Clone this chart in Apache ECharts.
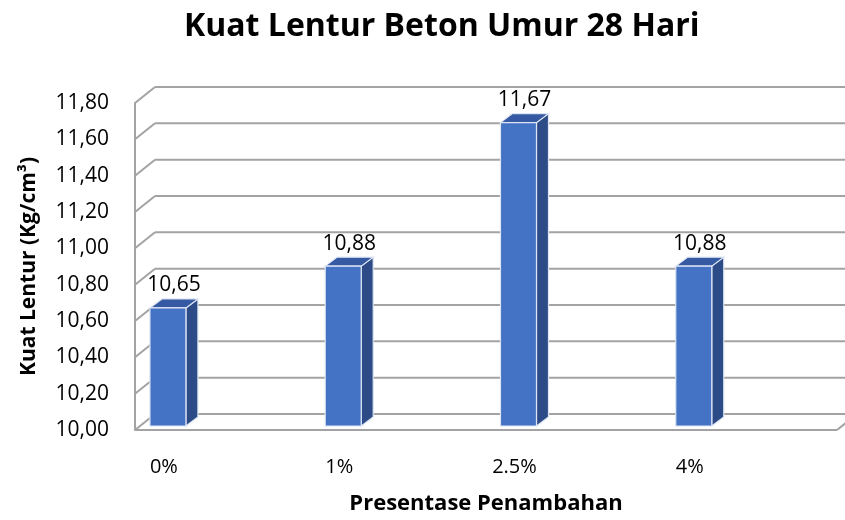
<!DOCTYPE html>
<html>
<head>
<meta charset="utf-8">
<script src="https://cdn.jsdelivr.net/npm/echarts@6/dist/echarts.min.js"></script>
<style>
  html, body { margin: 0; padding: 0; background: #fff; }
  #chart { width: 845px; height: 520px; }
</style>
</head>
<body>
<div id="chart"></div>
<script>
// data
const categories = ['0%', '1%', '2.5%', '4%']
const values = [10.65, 10.88, 11.67, 10.88]
const yTicks = [10.0, 10.2, 10.4, 10.6, 10.8, 11.0, 11.2, 11.4, 11.6, 11.8]

// 3d look
const WALL_DX = 20, WALL_DY = -16   // back wall offset from the front plane
const FACE_DX = 4, FACE_DY = -4     // bar front face sits a bit inside the floor
const BAR_DX = 12, BAR_DY = -9      // bar depth
const BAR_HALF = 18
const lineColor = '#a3a3a3'
const fmt = v => v.toFixed(2).replace('.', ',')

const chart = echarts.init(document.getElementById('chart'))

function renderWall (params, api) {
  const cs = params.coordSys
  const v = api.value(0)
  const y = api.coord([0, v])[1]
  const x0 = cs.x, x1 = cs.x + cs.width
  const st = { stroke: lineColor, lineWidth: 2, fill: null }
  const kids = [
    { type: 'line', shape: { x1: x0, y1: y, x2: x0 + WALL_DX, y2: y + WALL_DY }, style: st },
    { type: 'line', shape: { x1: x0 + WALL_DX, y1: y + WALL_DY, x2: x1 + WALL_DX, y2: y + WALL_DY }, style: st }
  ]
  if (params.dataIndex === 0) {
    kids.push({ type: 'line', shape: { x1: x0, y1: y, x2: x1, y2: y }, style: st })
    kids.push({ type: 'line', shape: { x1: x1, y1: y, x2: x1 + WALL_DX, y2: y + WALL_DY }, style: st })
  }
  return { type: 'group', children: kids }
}

function renderBar (params, api) {
  const i = api.value(0)
  const v = api.value(1)
  const top = api.coord([i, v])
  const base = api.coord([i, yTicks[0]])
  const xl = top[0] + FACE_DX - BAR_HALF
  const xr = top[0] + FACE_DX + BAR_HALF
  const yt = top[1] + FACE_DY
  const yb = base[1] + FACE_DY
  const edge = { stroke: '#dfe6f3', lineWidth: 1.2 }
  return {
    type: 'group',
    children: [
      { type: 'polygon', shape: { points: [[xr, yt], [xr + BAR_DX, yt + BAR_DY], [xr + BAR_DX, yb + BAR_DY], [xr, yb]] },
        style: Object.assign({ fill: '#2c4b87' }, edge) },
      { type: 'polygon', shape: { points: [[xl, yt], [xl + BAR_DX, yt + BAR_DY], [xr + BAR_DX, yt + BAR_DY], [xr, yt]] },
        style: Object.assign({ fill: '#3559a2' }, edge) },
      { type: 'rect', shape: { x: xl, y: yt, width: xr - xl, height: yb - yt },
        style: Object.assign({ fill: '#4472c4' }, edge) },
      { type: 'text',
        style: { text: fmt(v), x: (xl + xr) / 2 + BAR_DX / 2, y: yt + BAR_DY - 3,
          align: 'center', verticalAlign: 'bottom', fill: '#000',
          font: '21px "Open Sans", sans-serif' } }
    ]
  }
}

chart.setOption({
  animation: false,
  backgroundColor: '#fff',
  title: {
    text: 'Kuat Lentur Beton Umur 28 Hari',
    left: 179,
    top: 6,
    textStyle: { fontFamily: 'Open Sans', fontWeight: 'bold', fontSize: 32, color: '#000' }
  },
  grid: { left: 135, right: 8, top: 103, bottom: 88 },
  xAxis: {
    type: 'value',
    min: -0.165,
    max: 3.84,
    name: 'Presentase Penambahan',
    nameLocation: 'middle',
    nameGap: 63,
    nameTextStyle: { fontFamily: 'Open Sans', fontWeight: 'bold', fontSize: 22, color: '#000' },
    axisLine: { show: false },
    axisTick: { show: false },
    splitLine: { show: false },
    axisLabel: {
      customValues: [0, 1, 2, 3],
      formatter: v => categories[Math.round(v)],
      margin: 27,
      fontFamily: 'Open Sans',
      fontSize: 20,
      color: '#000'
    }
  },
  yAxis: {
    type: 'value',
    min: 10,
    max: 11.8,
    interval: 0.2,
    name: 'Kuat Lentur (Kg/cm³)',
    nameLocation: 'middle',
    nameGap: 95,
    nameTextStyle: { fontFamily: 'Open Sans', fontWeight: 'bold', fontSize: 21, color: '#000' },
    axisLine: { show: true, onZero: false, lineStyle: { color: lineColor, width: 2 } },
    axisTick: { show: false },
    splitLine: { show: false },
    axisLabel: {
      formatter: fmt,
      margin: 26,
      fontFamily: 'Open Sans',
      fontSize: 21,
      color: '#000'
    }
  },
  series: [
    {
      type: 'custom',
      renderItem: renderWall,
      data: yTicks.map(v => [v]),
      encode: { y: 0 },
      clip: false,
      silent: true,
      z: 1
    },
    {
      type: 'custom',
      renderItem: renderBar,
      data: values.map((v, i) => [i, v]),
      encode: { x: 0, y: 1 },
      clip: false,
      z: 5
    }
  ]
})
</script>
</body>
</html>
